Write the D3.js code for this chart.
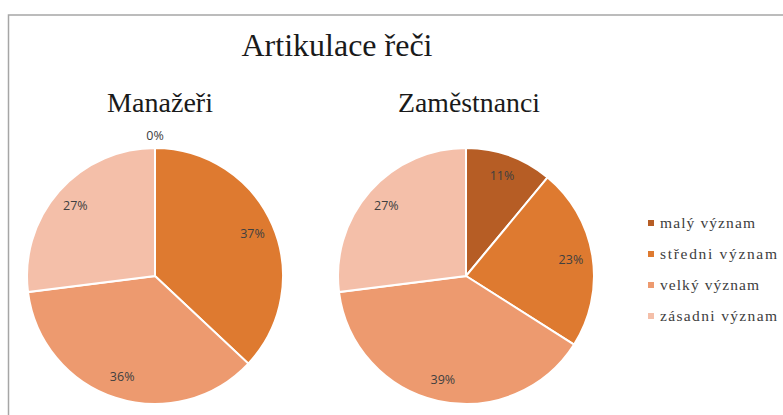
<!DOCTYPE html>
<html>
<head>
<meta charset="utf-8">
<script src="https://cdn.jsdelivr.net/npm/d3@7"></script>
<style>
  body { margin: 0; background: #fff; }
  svg { display: block; }
  .serif { font-family: "Liberation Serif", "Times New Roman", serif; }
  .sans { font-family: "Open Sans", "Liberation Sans", sans-serif; }
</style>
</head>
<body>
<div id="chart"></div>
<script>
// categories and series
const categories = ["malý význam", "středni význam", "velký význam", "zásadni význam"];
const manazeri = [0, 37, 36, 27];
const zamestnanci = [11, 23, 39, 27];
const pieTitles = ["Manažeři", "Zaměstnanci"];
const colors = ["#b65d25", "#de7a30", "#ed9a6f", "#f4bfa9"];

const width = 783, height = 415;

const svg = d3.select("#chart")
    .append("svg")
    .attr("width", width)
    .attr("height", height);

// frame (only top and left edges are visible)
svg.append("path")
    .attr("d", "M8.5,415 V15 H783")
    .attr("fill", "none")
    .attr("stroke", "#a6a6a6")
    .attr("stroke-width", 1.5);

svg.append("text")
    .attr("class", "serif")
    .attr("x", 337)
    .attr("y", 56)
    .attr("text-anchor", "middle")
    .attr("textLength", 191)
    .attr("lengthAdjust", "spacingAndGlyphs")
    .style("font-size", "31px")
    .attr("fill", "#1a1a1a")
    .text("Artikulace řeči");

const color = d3.scaleOrdinal().domain(categories).range(colors);
const radius = 128;

const pie = d3.pie().sort(null).value(d => d.value);
const arc = d3.arc().innerRadius(0).outerRadius(radius);
const labelArc = d3.arc().innerRadius(radius * 0.83).outerRadius(radius * 0.83);

const charts = [
    { title: pieTitles[0], values: manazeri, cx: 155, cy: 276, tx: 5, tw: 106 },
    { title: pieTitles[1], values: zamestnanci, cx: 466, cy: 276, tx: 3, tw: 142 }
];

charts.forEach(c => {
    const data = categories.map((k, i) => ({ key: k, value: c.values[i] }));
    const g = svg.append("g").attr("transform", `translate(${c.cx},${c.cy})`);

    g.append("text")
        .attr("class", "serif")
        .attr("x", c.tx)
        .attr("y", -164)
        .attr("text-anchor", "middle")
        .attr("textLength", c.tw)
        .attr("lengthAdjust", "spacingAndGlyphs")
        .style("font-size", "27px")
        .attr("fill", "#1a1a1a")
        .text(c.title);

    const arcs = pie(data);

    g.selectAll("path")
        .data(arcs)
        .enter()
        .append("path")
        .attr("d", arc)
        .attr("fill", d => color(d.data.key))
        .attr("stroke", "#fff")
        .attr("stroke-width", 2);

    g.selectAll("text.lbl")
        .data(arcs)
        .enter()
        .append("text")
        .attr("class", "lbl sans")
        .attr("transform", d => {
            if (d.data.value === 0) return `translate(0,${-radius - 12})`;
            return `translate(${labelArc.centroid(d)})`;
        })
        .attr("text-anchor", "middle")
        .attr("dy", "0.35em")
        .style("font-size", "12.5px")
        .attr("fill", "#404040")
        .text(d => d.data.value + "%");
});

// legend
const legendWidths = [95, 117, 99, 117];
const legend = svg.append("g")
    .selectAll("g")
    .data(categories)
    .enter()
    .append("g")
    .attr("transform", (d, i) => `translate(648,${223 + i * 31})`);

legend.append("rect")
    .attr("x", 0)
    .attr("y", -3)
    .attr("width", 6)
    .attr("height", 6)
    .attr("fill", d => color(d));

legend.append("text")
    .attr("class", "serif")
    .attr("x", 12)
    .attr("dy", "0.35em")
    .attr("textLength", (d, i) => legendWidths[i])
    .attr("lengthAdjust", "spacing")
    .style("font-size", "15.5px")
    .attr("fill", "#404040")
    .text(d => d);
</script>
</body>
</html>
